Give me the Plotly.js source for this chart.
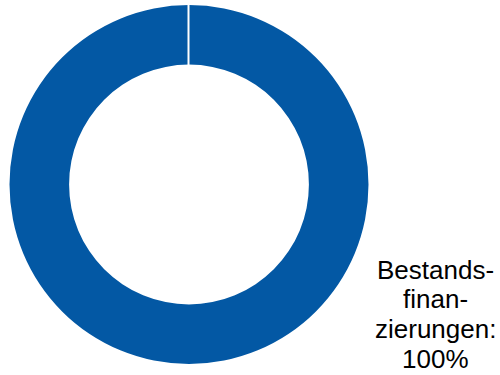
<!DOCTYPE html>
<html>
<head>
<meta charset="utf-8">
<script src="https://cdn.plot.ly/plotly-3.0.1.min.js"></script>
<style>html,body{margin:0;padding:0;background:#fff;}#chart{width:500px;height:375px;}</style>
</head>
<body>
<div id="chart"></div>
<script>
var labels = ['Bestands-<br>finan-<br>zierungen'];
var values = [100];
var colors = ['#0358a4'];

var total = values.reduce(function(a, b) { return a + b; }, 0);
var labelLines = (labels[0] + ':<br>' + Math.round(values[0] / total * 100) + '%').split('<br>');

var data = [{
  type: 'pie',
  labels: labels,
  values: values,
  hole: 0.668,
  sort: false,
  direction: 'clockwise',
  rotation: 0,
  textinfo: 'none',
  hoverinfo: 'label+percent',
  marker: { colors: colors, line: { color: '#ffffff', width: 0 } },
  domain: { x: [0.019, 0.737], y: [0.0293, 0.9867] },
  showlegend: false
}];

var lineTop = 269.5, lineGap = 29.9;
var annotations = labelLines.map(function(t, i) {
  return {
    xref: 'paper', yref: 'paper',
    x: 435 / 500, y: 1 - (lineTop + i * lineGap) / 375,
    xanchor: 'center', yanchor: 'middle',
    text: t,
    showarrow: false,
    align: 'center',
    borderpad: 0,
    font: { family: 'Liberation Sans, Arial, sans-serif', size: 26, color: '#000000' }
  };
});

var layout = {
  width: 500,
  height: 375,
  margin: { l: 0, r: 0, t: 0, b: 0 },
  paper_bgcolor: '#ffffff',
  plot_bgcolor: '#ffffff',
  showlegend: false,
  font: { family: 'Liberation Sans, Arial, sans-serif', color: '#000000' },
  shapes: [{
    type: 'line', xref: 'paper', yref: 'paper',
    x0: 0.377, x1: 0.377, y0: 1 - 4 / 375, y1: 1 - 66 / 375,
    line: { color: '#ffffff', width: 2 }
  }],
  annotations: annotations
};

Plotly.newPlot('chart', data, layout, { displayModeBar: false, staticPlot: true });
</script>
</body>
</html>
